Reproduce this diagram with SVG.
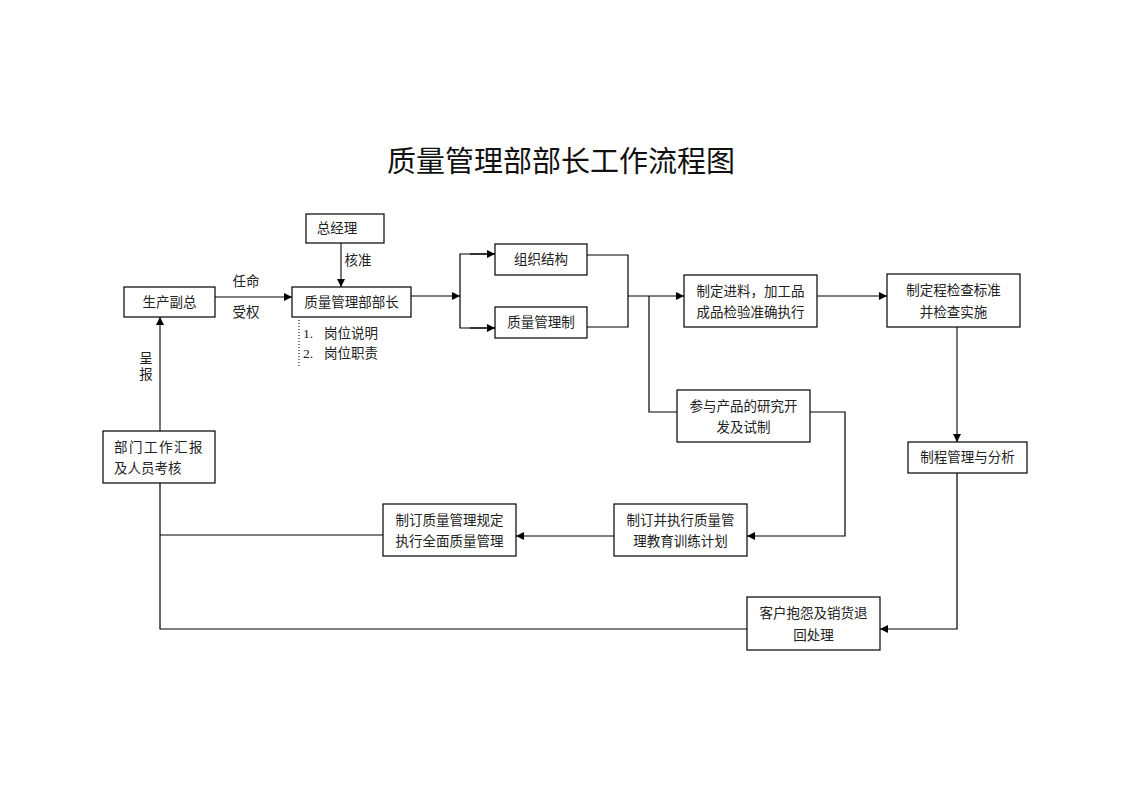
<svg xmlns="http://www.w3.org/2000/svg" width="1122" height="793" viewBox="0 0 1122 793">
<defs>
<style>
.box{fill:#fff;stroke:#000;stroke-width:1.2}
.t{font-family:"Liberation Serif","Noto Sans CJK SC",serif;font-size:13.5px;fill:#222;text-anchor:middle;dominant-baseline:central}
.tl{text-anchor:start}
.ln{fill:none;stroke:#000;stroke-width:1.2}
.g{stroke:#555;stroke-width:1.6}
.title{font-family:"Liberation Serif","Noto Sans CJK SC",serif;font-size:29px;fill:#111;text-anchor:middle;dominant-baseline:central}
</style>
<marker id="arr" viewBox="0 0 10 10" refX="10" refY="5" markerWidth="8" markerHeight="8" markerUnits="userSpaceOnUse" orient="auto">
<path d="M0,0 L10,5 L0,10 z" fill="#000"/>
</marker>
</defs>
<rect width="1122" height="793" fill="#fff"/>
<text class="title" x="561" y="162">质量管理部部长工作流程图</text>

<g id="connectors">
<line class="ln" x1="215" y1="297" x2="292" y2="297" marker-end="url(#arr)"/>
<line class="ln g" x1="341" y1="243" x2="341" y2="287" marker-end="url(#arr)"/>
<line class="ln" x1="411" y1="296" x2="460" y2="296" marker-end="url(#arr)"/>
<polyline class="ln" points="495,254 460,254 460,328 495,328"/>
<line class="ln" x1="470" y1="254" x2="495" y2="254" marker-end="url(#arr)"/>
<line class="ln" x1="470" y1="328" x2="495" y2="328" marker-end="url(#arr)"/>
<polyline class="ln" points="587,255 628,255 628,327 587,327"/>
<line class="ln" x1="628" y1="296" x2="684" y2="296" marker-end="url(#arr)"/>
<polyline class="ln" points="649,296 649,412 677,412"/>
<line class="ln" x1="817" y1="296" x2="887" y2="296" marker-end="url(#arr)"/>
<line class="ln g" x1="957" y1="327" x2="957" y2="442" marker-end="url(#arr)"/>
<polyline class="ln" points="957,473 957,629 880,629" marker-end="url(#arr)"/>
<polyline class="ln" points="810,412 845,412 845,536 747,536" marker-end="url(#arr)"/>
<line class="ln" x1="614" y1="536" x2="516" y2="536" marker-end="url(#arr)"/>
<line class="ln" x1="383" y1="535" x2="160" y2="535"/>
<polyline class="ln" points="747,629 160,629 160,483"/>
<line class="ln g" x1="160" y1="431" x2="160" y2="317" marker-end="url(#arr)"/>
<line x1="299" y1="320" x2="299" y2="368" stroke="#000" stroke-width="1" stroke-dasharray="1,2"/>
<text class="t" x="246" y="281">任命</text>
<text class="t" x="246" y="312">受权</text>
<text class="t" x="358" y="260">核准</text>
<text class="t" x="146" y="358">呈</text>
<text class="t" x="146" y="374">报</text>
<text class="t tl" x="303" y="333">1.</text>
<text class="t tl" x="324" y="333">岗位说明</text>
<text class="t tl" x="303" y="353">2.</text>
<text class="t tl" x="324" y="353">岗位职责</text>
</g>

<g id="n-zongjingli"><rect class="box" x="306" y="214" width="78" height="29"/><text class="t" x="337" y="228.5">总经理</text></g>
<g id="n-shengchan"><rect class="box" x="124" y="287" width="91" height="30"/><text class="t" x="169.5" y="302">生产副总</text></g>
<g id="n-buzhang"><rect class="box" x="292" y="287" width="119" height="30"/><text class="t" x="351.5" y="302">质量管理部部长</text></g>
<g id="n-zuzhi"><rect class="box" x="495" y="244" width="92" height="31"/><text class="t" x="541" y="259.5">组织结构</text></g>
<g id="n-zhidu"><rect class="box" x="495" y="307" width="92" height="31"/><text class="t" x="541" y="322.5">质量管理制</text></g>
<g id="n-jinliao"><rect class="box" x="684" y="275" width="133" height="52"/><text class="t" x="750.5" y="291">制定进料，加工品</text><text class="t" x="750.5" y="312">成品检验准确执行</text></g>
<g id="n-biaozhun"><rect class="box" x="887" y="274" width="133" height="53"/><text class="t" x="953.5" y="290">制定程检查标准</text><text class="t" x="953.5" y="312">并检查实施</text></g>
<g id="n-yanjiu"><rect class="box" x="677" y="390" width="133" height="52"/><text class="t" x="743.5" y="406">参与产品的研究开</text><text class="t" x="743.5" y="427">发及试制</text></g>
<g id="n-zhicheng"><rect class="box" x="908" y="442" width="119" height="31"/><text class="t" x="967.5" y="457.5">制程管理与分析</text></g>
<g id="n-huibao"><rect class="box" x="103" y="431" width="112" height="52"/><text class="t tl" x="114" y="447" letter-spacing="1.5">部门工作汇报</text><text class="t tl" x="114" y="468">及人员考核</text></g>
<g id="n-guiding"><rect class="box" x="383" y="504" width="133" height="52"/><text class="t" x="449.5" y="520">制订质量管理规定</text><text class="t" x="449.5" y="541">执行全面质量管理</text></g>
<g id="n-jiaoyu"><rect class="box" x="614" y="504" width="133" height="52"/><text class="t" x="680.5" y="520">制订并执行质量管</text><text class="t" x="680.5" y="541">理教育训练计划</text></g>
<g id="n-kehu"><rect class="box" x="747" y="597" width="133" height="53"/><text class="t" x="813.5" y="613">客户抱怨及销货退</text><text class="t" x="813.5" y="635">回处理</text></g>
</svg>
